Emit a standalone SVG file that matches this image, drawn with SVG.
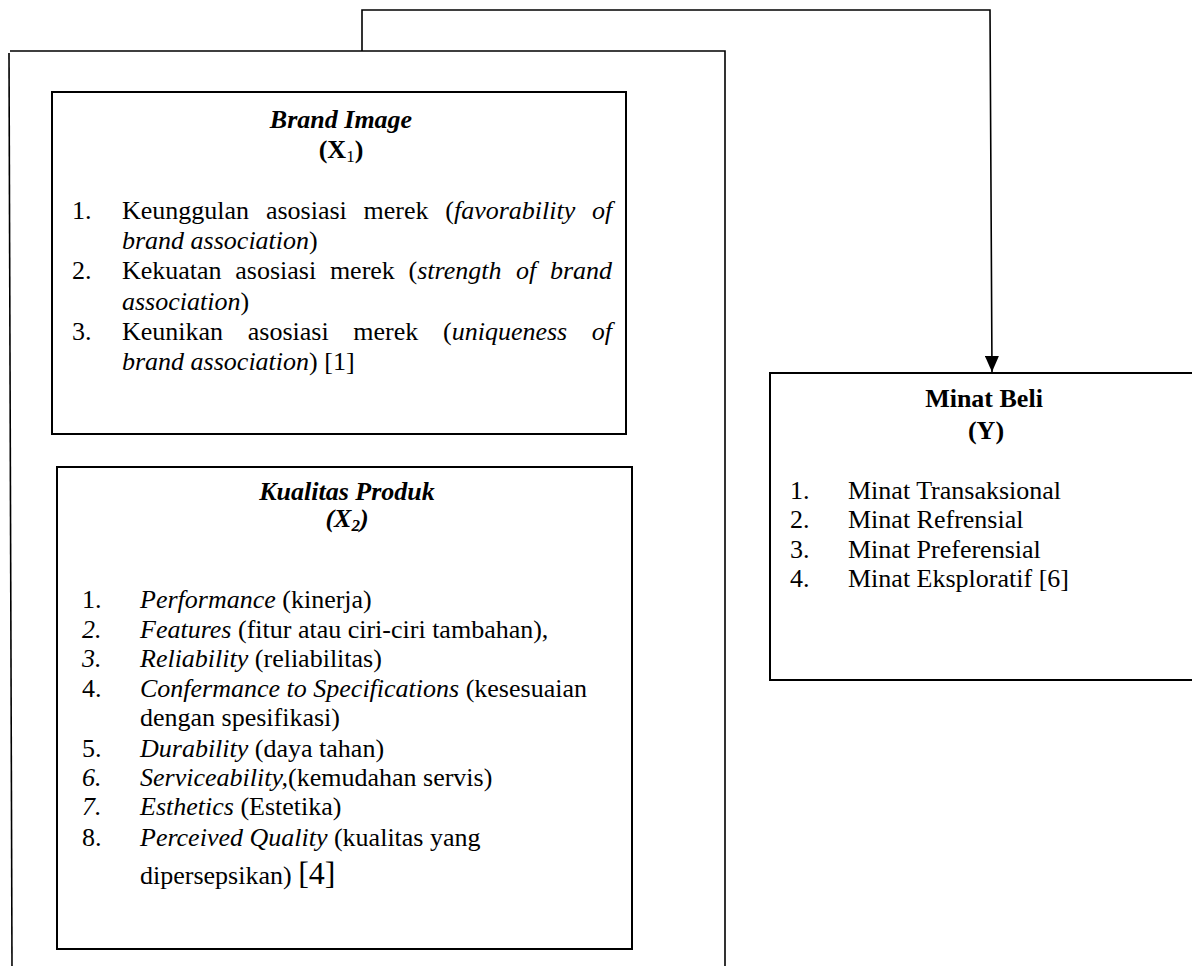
<svg xmlns="http://www.w3.org/2000/svg" width="1192" height="966" viewBox="0 0 1192 966">
<defs>
<style>
.t{font-family:"Liberation Serif","Times New Roman",serif;font-size:26px;fill:#000}
.b{font-weight:bold}
.i{font-style:italic}
.c{text-anchor:middle}
.box{fill:#fff;stroke:#000;stroke-width:2}
.ln{fill:none;stroke:#000;stroke-width:1.6}
</style>
<marker id="arr" viewBox="0 0 16 14" refX="16" refY="7" markerWidth="16" markerHeight="14" markerUnits="userSpaceOnUse" orient="auto">
<path d="M0,0 L16,7 L0,14 Z" fill="#000"/>
</marker>
</defs>
<rect width="1192" height="966" fill="#fff"/>

<g id="group-x">
<path class="ln" d="M10,51 H725 V966"/>
<path class="ln" d="M9,53 L12,966"/>
</g>

<g id="connectors">
<path class="ln" d="M362,51 V10 H990 L992,372" marker-end="url(#arr)"/>
</g>

<g id="brand-image">
<rect class="box" x="52" y="92" width="574" height="342"/>
<text class="t b i c" x="341" y="128">Brand Image</text>
<text class="t b c" x="341" y="158">(X<tspan font-size="17" dy="4" font-weight="normal">1</tspan><tspan dy="-4">)</tspan></text>
<text class="t"><tspan x="72" y="219">1.</tspan><tspan x="122" y="219">Keunggulan</tspan><tspan x="265.9" y="219">asosiasi</tspan><tspan x="363.5" y="219">merek</tspan><tspan x="445.3" y="219">(<tspan class="i">favorability</tspan></tspan><tspan class="i" x="592" y="219">of</tspan></text>
<text class="t" x="122" y="249"><tspan class="i">brand association</tspan>)</text>
<text class="t"><tspan x="72" y="279">2.</tspan><tspan x="122" y="279">Kekuatan</tspan><tspan x="235.3" y="279">asosiasi</tspan><tspan x="329.9" y="279">merek</tspan><tspan x="408.5" y="279">(<tspan class="i">strength</tspan></tspan><tspan class="i" x="516.1" y="279">of</tspan><tspan class="i" x="550" y="279">brand</tspan></text>
<text class="t" x="122" y="310"><tspan class="i">association</tspan>)</text>
<text class="t"><tspan x="72" y="340">3.</tspan><tspan x="122" y="340">Keunikan</tspan><tspan x="247.8" y="340">asosiasi</tspan><tspan x="353.3" y="340">merek</tspan><tspan x="443" y="340">(<tspan class="i">uniqueness</tspan></tspan><tspan class="i" x="591.8" y="340">of</tspan></text>
<text class="t" x="122" y="370"><tspan class="i">brand association</tspan>) [1]</text>
</g>

<g id="kualitas-produk">
<rect class="box" x="57" y="467" width="575" height="482"/>
<text class="t b i c" x="347" y="500">Kualitas Produk</text>
<text class="t b i c" x="347" y="527">(X<tspan font-size="17" dy="4">2</tspan><tspan dy="-4">)</tspan></text>
<text class="t" x="82" y="608">1.</text>
<text class="t" x="140" y="608"><tspan class="i">Performance</tspan> (kinerja)</text>
<text class="t i" x="82" y="638">2.</text>
<text class="t" x="140" y="638"><tspan class="i">Features</tspan> (fitur atau ciri-ciri tambahan),</text>
<text class="t i" x="82" y="667">3.</text>
<text class="t" x="140" y="667"><tspan class="i">Reliability</tspan> (reliabilitas)</text>
<text class="t" x="82" y="697">4.</text>
<text class="t" x="140" y="697"><tspan class="i">Confermance to Specifications</tspan> (kesesuaian</text>
<text class="t" x="140" y="726">dengan spesifikasi)</text>
<text class="t" x="82" y="757">5.</text>
<text class="t" x="140" y="757"><tspan class="i">Durability</tspan> (daya tahan)</text>
<text class="t i" x="82" y="786">6.</text>
<text class="t" x="140" y="786"><tspan class="i">Serviceability,</tspan>(kemudahan servis)</text>
<text class="t i" x="82" y="815">7.</text>
<text class="t" x="140" y="815"><tspan class="i">Esthetics</tspan> (Estetika)</text>
<text class="t" x="82" y="846">8.</text>
<text class="t" x="140" y="846"><tspan class="i">Perceived Quality</tspan> (kualitas yang</text>
<text class="t" x="140" y="884">dipersepsikan) <tspan font-size="32">[4]</tspan></text>
</g>

<g id="minat-beli">
<rect class="box" x="770" y="373" width="440" height="307"/>
<text class="t b c" x="984" y="407">Minat Beli</text>
<text class="t b c" x="986" y="439">(Y)</text>
<text class="t" x="790" y="499">1.</text>
<text class="t" x="848" y="499">Minat Transaksional</text>
<text class="t" x="790" y="528">2.</text>
<text class="t" x="848" y="528">Minat Refrensial</text>
<text class="t" x="790" y="558">3.</text>
<text class="t" x="848" y="558">Minat Preferensial</text>
<text class="t" x="790" y="587">4.</text>
<text class="t" x="848" y="587">Minat Eksploratif [6]</text>
</g>
</svg>
